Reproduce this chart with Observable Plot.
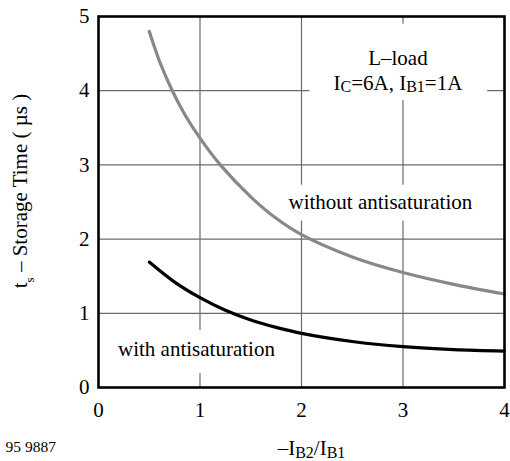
<!DOCTYPE html>
<html><head><meta charset="utf-8">
<script src="https://cdn.jsdelivr.net/npm/d3@7"></script>
<script src="https://cdn.jsdelivr.net/npm/@observablehq/plot@0.6"></script>
<style>html,body{margin:0;padding:0;background:#fff;} svg{display:block}</style>
</head><body><div id="chart"></div>
<script>
// ---- data ----
const ratioWithout = [0.5, 0.6, 0.72, 0.85, 1, 1.2, 1.5, 1.75, 2, 2.5, 3, 3.5, 4];
const tsWithout    = [4.8, 4.40, 4.02, 3.68, 3.36, 3.0, 2.57, 2.28, 2.06, 1.76, 1.55, 1.39, 1.26];
const ratioWith    = [0.5, 0.75, 1, 1.25, 1.5, 1.75, 2, 2.5, 3, 3.5, 4];
const tsWith       = [1.69, 1.42, 1.21, 1.04, 0.91, 0.81, 0.73, 0.62, 0.55, 0.51, 0.49];
const xTicks = [0, 1, 2, 3, 4];
const yTicks = [0, 1, 2, 3, 4, 5];
const xGrid = [1, 2, 3];
const yGrid = [1, 2, 3, 4];
const noteText = ["L\u2013load\nI_{C}=6A, I_{B1}=1A"];
const noteX = [2.95];
const noteY = [4.29];
const seriesLabels = ["without antisaturation", "with antisaturation"];
const seriesLabelX = [2.777, 0.965];
const seriesLabelY = [2.50, 0.515];
const xLabel = "\u2013I_{B2}/I_{B1}";
const yLabel = "t_{s} \u2013 Storage Time ( \u00b5s )";
const figId = "95 9887";

const without = ratioWithout.map((x, i) => ({x, y: tsWithout[i]}));
const withA = ratioWith.map((x, i) => ({x, y: tsWith[i]}));
const notes = noteText.map((t, i) => ({t, x: noteX[i], y: noteY[i]}));
const slabels = seriesLabels.map((t, i) => ({t, x: seriesLabelX[i], y: seriesLabelY[i]}));

const FONT = "'Liberation Serif', 'Times New Roman', serif";
const fs = 21;

const plot = Plot.plot({
  width: 510, height: 461,
  marginLeft: 98, marginRight: 6, marginTop: 16, marginBottom: 74,
  style: {fontFamily: FONT, fontSize: fs + "px", color: "black", background: "white"},
  x: {domain: [0, 4], axis: null},
  y: {domain: [0, 5], axis: null},
  marks: [
    Plot.gridX(xGrid, {stroke: "#6a6a6a", strokeOpacity: 1, strokeWidth: 1.2}),
    Plot.gridY(yGrid, {stroke: "#6a6a6a", strokeOpacity: 1, strokeWidth: 1.2}),
    Plot.text(notes, {x: "x", y: "y", text: "t", fontSize: fs, lineHeight: 1.19, fill: "black", textAnchor: "middle", ariaDescription: "note"}),
    Plot.text(slabels, {x: "x", y: "y", text: "t", fontSize: fs, fill: "black", textAnchor: "middle", ariaDescription: "slabel"}),
    Plot.line(without, {x: "x", y: "y", stroke: "#888888", strokeWidth: 3.2, curve: "catmull-rom"}),
    Plot.line(withA, {x: "x", y: "y", stroke: "black", strokeWidth: 3.2, curve: "catmull-rom"}),
    Plot.frame({stroke: "black", strokeWidth: 2.6}),
    // tick labels
    Plot.text(xTicks, {x: d => d, frameAnchor: "bottom", dy: 23, text: d => String(d), textAnchor: "middle", lineAnchor: "middle", fontSize: fs, fill: "black"}),
    Plot.text(yTicks, {y: d => d, frameAnchor: "left", dx: -9, text: d => String(d), textAnchor: "end", lineAnchor: "middle", fontSize: fs, fill: "black"}),
    // axis titles and figure id
    Plot.text([xLabel], {frameAnchor: "bottom", dx: 10, dy: 61, textAnchor: "middle", lineAnchor: "middle", fontSize: fs, fill: "black", ariaDescription: "xlabel"}),
    Plot.text([yLabel], {frameAnchor: "left", dx: -78, dy: -11, rotate: -90, textAnchor: "middle", lineAnchor: "middle", fontSize: fs, fill: "black", ariaDescription: "ylabel"}),
    Plot.text([figId], {frameAnchor: "bottom-left", dx: -93, dy: 59.7, textAnchor: "start", lineAnchor: "middle", fontSize: 15.5, fill: "black"})
  ]
});
document.getElementById("chart").appendChild(plot);

plot.querySelectorAll("g, text").forEach(el => { el.style.fontFamily = FONT; });

const NS = "http://www.w3.org/2000/svg";
function subscriptify(root, size, shift) {
  if (!root) return;
  const leaves = [...root.querySelectorAll("text, tspan")].filter(e => e.children.length === 0 && e.textContent.includes("_{"));
  for (const el of leaves) {
    const s = el.textContent;
    el.textContent = "";
    const parts = [];
    const re = /_\{([^}]*)\}/g;
    let last = 0, m;
    while ((m = re.exec(s))) {
      if (m.index > last) parts.push([s.slice(last, m.index), false]);
      parts.push([m[1], true]);
      last = re.lastIndex;
    }
    if (last < s.length) parts.push([s.slice(last), false]);
    let lowered = false;
    for (const [str, sub] of parts) {
      const t = document.createElementNS(NS, "tspan");
      t.textContent = str;
      if (sub) {
        t.setAttribute("font-size", size);
        if (!lowered) { t.setAttribute("dy", shift); lowered = true; }
      } else if (lowered) {
        t.setAttribute("dy", -shift); lowered = false;
      }
      el.appendChild(t);
    }
  }
}
const g = a => plot.querySelector(`g[aria-description="${a}"]`);
subscriptify(g("note"), 16, 2.5);
subscriptify(g("xlabel"), 16, 2.5);
subscriptify(g("ylabel"), 13, 7);

function whiteBoxes(group, pads) {
  if (!group) return;
  [...group.querySelectorAll(":scope > text")].forEach((txt, i) => {
    const p = pads[i];
    const bb = txt.getBBox();
    const r = document.createElementNS(NS, "rect");
    r.setAttribute("x", bb.x - p[3]);
    r.setAttribute("y", bb.y - p[0]);
    r.setAttribute("width", bb.width + p[1] + p[3]);
    r.setAttribute("height", bb.height + p[0] + p[2]);
    r.setAttribute("fill", "white");
    r.setAttribute("stroke", "none");
    const tr = txt.getAttribute("transform");
    if (tr) r.setAttribute("transform", tr);
    group.insertBefore(r, txt);
  });
}
whiteBoxes(g("note"), [[22, 24, 5, 24]]);
whiteBoxes(g("slabel"), [[5, 6, 7, 6], [7, 6, 12, 6]]);
</script>
</body></html>
